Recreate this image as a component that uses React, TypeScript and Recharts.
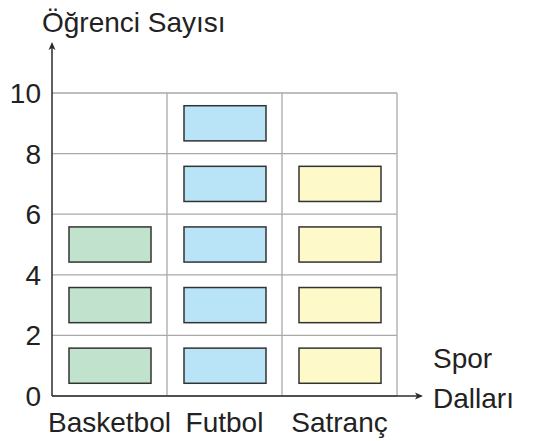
import React from 'react';
import { BarChart, Bar, XAxis, YAxis, CartesianGrid, Cell } from 'recharts';

const categories = ['Basketbol', 'Futbol', 'Satranç'];
const counts = [6, 10, 8];
const yTicks = [0, 2, 4, 6, 8, 10];
const colors = ['#c1e2cc', '#b9e4f8', '#fef9c9'];
const studentsPerIcon = 2;
const yTitle = 'Öğrenci Sayısı';
const xTitleLines = ['Spor', 'Dalları'];

const data = categories.map((name, i) => ({ name, value: counts[i] }));

const FONT = 'Liberation Sans, Arial, sans-serif';
const FS = 28;
const AXIS = '#2b2b2b';
const GRID = '#a9a9a9';

const IconStack = (props: any) => {
  const { x, y, width, height, value, fill } = props;
  const v = Array.isArray(value) ? value[1] - value[0] : value;
  const n = Math.round(v / studentsPerIcon);
  if (!n) return null;
  const cellH = height / n;
  const boxH = cellH * 0.58;
  const items = [];
  for (let k = 0; k < n; k++) {
    const cellBottom = y + height - k * cellH;
    const cy = cellBottom - cellH / 2;
    items.push(
      <rect
        key={k}
        x={x}
        y={cy - boxH / 2}
        width={width}
        height={boxH}
        fill={fill}
        stroke="#333"
        strokeWidth={1.5}
      />
    );
  }
  return <g>{items}</g>;
};

const YTitle = (props: any) => {
  const vb = props.viewBox || {};
  const ax = vb.x + vb.width;
  const top = vb.y;
  const tipY = top - 51;
  return (
    <g>
      <line x1={ax} y1={top} x2={ax} y2={tipY + 2} stroke={AXIS} strokeWidth={1.5} />
      <path d={`M${ax} ${tipY} L${ax - 3.5} ${tipY + 8} L${ax} ${tipY + 6} L${ax + 3.5} ${tipY + 8} Z`} fill={AXIS} />
      <text x={ax - 10} y={tipY - 10} fontFamily={FONT} fontSize={FS} fill="#222">
        {yTitle}
      </text>
    </g>
  );
};

const XTitle = (props: any) => {
  const vb = props.viewBox || {};
  const right = vb.x + vb.width;
  const ay = vb.y;
  const tipX = right + 26;
  return (
    <g>
      <line x1={right} y1={ay} x2={tipX - 2} y2={ay} stroke={AXIS} strokeWidth={1.5} />
      <path d={`M${tipX} ${ay} L${tipX - 8} ${ay - 3.5} L${tipX - 6} ${ay} L${tipX - 8} ${ay + 3.5} Z`} fill={AXIS} />
      <text fontFamily={FONT} fontSize={FS} fill="#222">
        <tspan x={tipX + 10} y={ay - 28}>{xTitleLines[0]}</tspan>
        <tspan x={tipX + 10} y={ay + 12}>{xTitleLines[1]}</tspan>
      </text>
    </g>
  );
};

export default function App() {
  return (
    <div style={{ position: 'absolute', left: 0, top: 0, width: 533, height: 441, background: '#fff' }}>
      <BarChart
        width={533}
        height={441}
        data={data}
        margin={{ top: 93, right: 136, bottom: 0, left: 0 }}
        barSize={82}
      >
        <CartesianGrid
          stroke={GRID}
          strokeWidth={1.3}
          verticalCoordinatesGenerator={({ offset }: any) =>
            categories.map((_, i) => offset.left + (offset.width * (i + 1)) / categories.length)
          }
        />
        <XAxis
          dataKey="name"
          height={45}
          tickSize={0}
          tickMargin={16}
          tickLine={false}
          axisLine={{ stroke: AXIS, strokeWidth: 1.5 }}
          tick={{ fontFamily: FONT, fontSize: FS, fill: '#222' }}
          interval={0}
          label={{ content: XTitle }}
        />
        <YAxis
          width={52}
          domain={[0, 10]}
          ticks={yTicks}
          tickSize={0}
          tickMargin={11}
          tickLine={false}
          axisLine={{ stroke: AXIS, strokeWidth: 1.5 }}
          tick={{ fontFamily: FONT, fontSize: FS, fill: '#222' }}
          interval={0}
          label={{ content: YTitle }}
        />
        <Bar dataKey="value" shape={IconStack} isAnimationActive={false}>
          {data.map((_, i) => (
            <Cell key={i} fill={colors[i]} />
          ))}
        </Bar>
      </BarChart>
    </div>
  );
}
